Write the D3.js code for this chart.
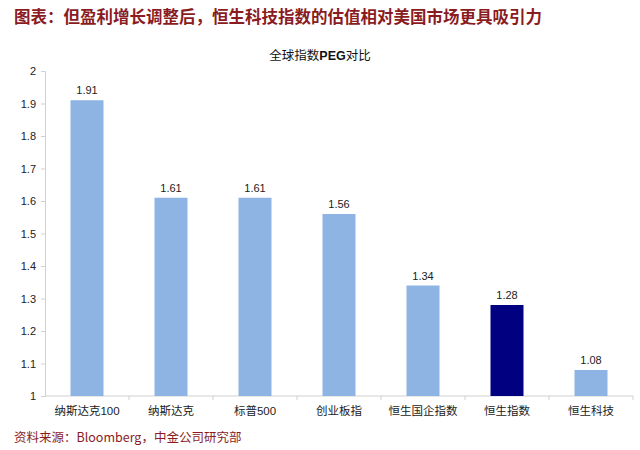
<!DOCTYPE html>
<html><head><meta charset="utf-8">
<script src="https://cdn.jsdelivr.net/npm/d3@7"></script>
<style>body{margin:0;background:#fff}</style>
</head><body>
<svg id="c" width="640" height="450"></svg>
<script>
const categories = ["纳斯达克100","纳斯达克","标普500","创业板指","恒生国企指数","恒生指数","恒生科技"];
const values = [1.91,1.61,1.61,1.56,1.34,1.28,1.08];
const highlight = ["恒生指数"];
const yTicks = [1,1.1,1.2,1.3,1.4,1.5,1.6,1.7,1.8,1.9,2];
const yTickLabels = ["1","1.1","1.2","1.3","1.4","1.5","1.6","1.7","1.8","1.9","2"];

(function(){
const svg = d3.select("#c");
const pL=45, pR=633, pT=71, pB=396;
const xb = d3.scaleBand().domain(categories).range([pL,pR]);
const y = d3.scaleLinear().domain([1,2]).range([pB,pT]);
const cjk = "'Noto Sans CJK SC','Noto Sans',sans-serif";
const lat = "'Liberation Sans',Arial,sans-serif";

svg.append("text").attr("x",14).attr("y",23).attr("fill","#8a1c1f")
  .attr("font-family",cjk).attr("font-weight","bold").attr("font-size",16.5)
  .text("图表：但盈利增长调整后，恒生科技指数的估值相对美国市场更具吸引力");

const t = svg.append("text").attr("x",320).attr("y",60).attr("text-anchor","middle")
  .attr("font-size",12.5).attr("fill","#111");
t.append("tspan").attr("font-family",cjk).text("全球指数");
t.append("tspan").attr("font-family",lat).attr("font-weight","bold").text("PEG");
t.append("tspan").attr("font-family",cjk).text("对比");

const ya = svg.append("g").attr("transform",`translate(${pL},0)`)
  .call(d3.axisLeft(y).tickValues(yTicks).tickFormat((d,i)=>yTickLabels[i]).tickSize(4).tickPadding(5));
ya.select(".domain").attr("stroke","#d0d0d0");
ya.selectAll(".tick line").attr("stroke","#d0d0d0");
ya.selectAll(".tick text").attr("font-family",lat).attr("font-size",11).attr("fill","#222");

const xa = svg.append("g").attr("transform",`translate(0,${pB})`);
xa.append("line").attr("x1",pL).attr("x2",pR).attr("stroke","#d0d0d0");
xa.selectAll("line.tk").data(categories).join("line").attr("class","tk")
  .attr("x1",d=>xb(d)+xb.step()).attr("x2",d=>xb(d)+xb.step()).attr("y1",0).attr("y2",4).attr("stroke","#d0d0d0");
xa.selectAll("text").data(categories).join("text")
  .attr("x",d=>xb(d)+xb.bandwidth()/2).attr("y",19).attr("text-anchor","middle")
  .attr("font-size",11.5).attr("fill","#222").attr("font-family",cjk)
  .each(function(d){
    const m = d.match(/^([^0-9]*)([0-9]*)$/);
    const s = d3.select(this);
    s.append("tspan").text(m[1]).attr("font-family",cjk);
    if(m[2]) s.append("tspan").text(m[2]).attr("font-family",lat);
  });

svg.selectAll("rect.bar").data(categories).join("rect").attr("class","bar")
  .attr("x",d=>xb(d)+xb.bandwidth()/2-16.5).attr("width",33)
  .attr("y",(d,i)=>y(values[i])).attr("height",(d,i)=>pB-y(values[i]))
  .attr("fill",d=>highlight.includes(d)?"#000080":"#8db4e2");

svg.selectAll("text.lbl").data(categories).join("text").attr("class","lbl")
  .attr("x",d=>xb(d)+xb.bandwidth()/2).attr("y",(d,i)=>y(values[i])-6)
  .attr("text-anchor","middle").attr("font-family",lat).attr("font-size",11).attr("fill","#222")
  .text((d,i)=>values[i].toFixed(2));

svg.append("text").attr("x",14).attr("y",442).attr("fill","#8a1c1f")
  .attr("font-family",cjk).attr("font-size",12.5)
  .text("资料来源：Bloomberg，中金公司研究部");
})();
</script>
</body></html>
